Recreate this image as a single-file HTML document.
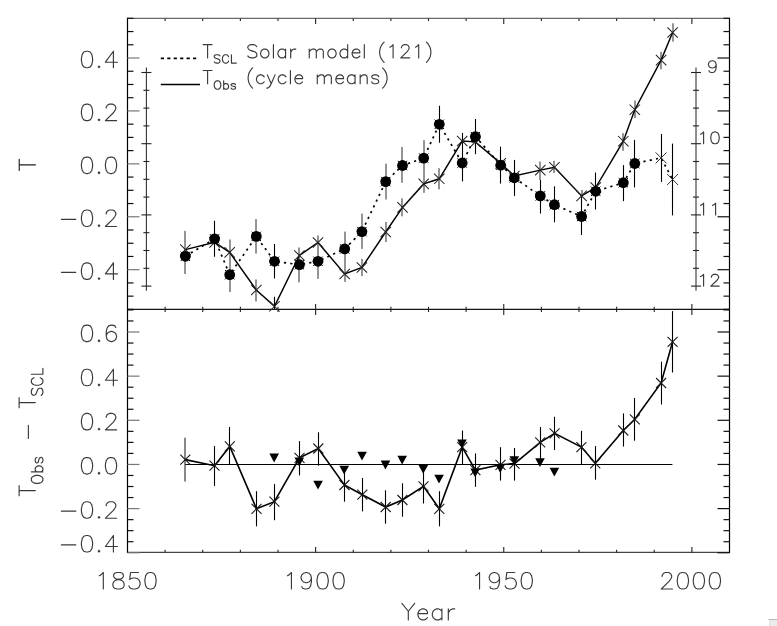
<!DOCTYPE html>
<html><head><meta charset="utf-8"><title>Solar model</title>
<style>html,body{margin:0;padding:0;background:#fff;}body{width:777px;height:626px;overflow:hidden;font-family:"Liberation Sans",sans-serif;}svg{display:block;}</style>
</head><body><svg width="777" height="626" viewBox="0 0 777 626"><g fill="none"><line x1="127.50" y1="18.40" x2="729.50" y2="18.40" stroke="#6a6a6a" stroke-width="1.30"/><line x1="127.50" y1="552.40" x2="729.50" y2="552.40" stroke="#444" stroke-width="1.30"/><line x1="127.50" y1="309.40" x2="729.50" y2="309.40" stroke="#151515" stroke-width="1.30"/><line x1="127.50" y1="17.80" x2="127.50" y2="553.00" stroke="#000" stroke-width="1.20"/><line x1="729.50" y1="17.80" x2="729.50" y2="553.00" stroke="#000" stroke-width="1.20"/><line x1="127.50" y1="309.38" x2="133.50" y2="309.38" stroke="#111" stroke-width="1.20"/><line x1="729.50" y1="309.38" x2="723.50" y2="309.38" stroke="#111" stroke-width="1.20"/><line x1="127.50" y1="296.15" x2="133.50" y2="296.15" stroke="#111" stroke-width="1.20"/><line x1="729.50" y1="296.15" x2="723.50" y2="296.15" stroke="#111" stroke-width="1.20"/><line x1="127.50" y1="282.92" x2="133.50" y2="282.92" stroke="#111" stroke-width="1.20"/><line x1="729.50" y1="282.92" x2="723.50" y2="282.92" stroke="#111" stroke-width="1.20"/><line x1="127.50" y1="269.69" x2="139.50" y2="269.69" stroke="#777" stroke-width="1.20"/><line x1="729.50" y1="269.69" x2="717.50" y2="269.69" stroke="#111" stroke-width="1.20"/><line x1="127.50" y1="256.46" x2="133.50" y2="256.46" stroke="#111" stroke-width="1.20"/><line x1="729.50" y1="256.46" x2="723.50" y2="256.46" stroke="#111" stroke-width="1.20"/><line x1="127.50" y1="243.23" x2="133.50" y2="243.23" stroke="#111" stroke-width="1.20"/><line x1="729.50" y1="243.23" x2="723.50" y2="243.23" stroke="#111" stroke-width="1.20"/><line x1="127.50" y1="230.00" x2="133.50" y2="230.00" stroke="#111" stroke-width="1.20"/><line x1="729.50" y1="230.00" x2="723.50" y2="230.00" stroke="#111" stroke-width="1.20"/><line x1="127.50" y1="216.77" x2="139.50" y2="216.77" stroke="#777" stroke-width="1.20"/><line x1="729.50" y1="216.77" x2="717.50" y2="216.77" stroke="#111" stroke-width="1.20"/><line x1="127.50" y1="203.54" x2="133.50" y2="203.54" stroke="#111" stroke-width="1.20"/><line x1="729.50" y1="203.54" x2="723.50" y2="203.54" stroke="#111" stroke-width="1.20"/><line x1="127.50" y1="190.31" x2="133.50" y2="190.31" stroke="#111" stroke-width="1.20"/><line x1="729.50" y1="190.31" x2="723.50" y2="190.31" stroke="#111" stroke-width="1.20"/><line x1="127.50" y1="177.08" x2="133.50" y2="177.08" stroke="#111" stroke-width="1.20"/><line x1="729.50" y1="177.08" x2="723.50" y2="177.08" stroke="#111" stroke-width="1.20"/><line x1="127.50" y1="163.85" x2="139.50" y2="163.85" stroke="#777" stroke-width="1.20"/><line x1="729.50" y1="163.85" x2="717.50" y2="163.85" stroke="#111" stroke-width="1.20"/><line x1="127.50" y1="150.62" x2="133.50" y2="150.62" stroke="#111" stroke-width="1.20"/><line x1="729.50" y1="150.62" x2="723.50" y2="150.62" stroke="#111" stroke-width="1.20"/><line x1="127.50" y1="137.39" x2="133.50" y2="137.39" stroke="#111" stroke-width="1.20"/><line x1="729.50" y1="137.39" x2="723.50" y2="137.39" stroke="#111" stroke-width="1.20"/><line x1="127.50" y1="124.16" x2="133.50" y2="124.16" stroke="#111" stroke-width="1.20"/><line x1="729.50" y1="124.16" x2="723.50" y2="124.16" stroke="#111" stroke-width="1.20"/><line x1="127.50" y1="110.93" x2="139.50" y2="110.93" stroke="#777" stroke-width="1.20"/><line x1="729.50" y1="110.93" x2="717.50" y2="110.93" stroke="#111" stroke-width="1.20"/><line x1="127.50" y1="97.70" x2="133.50" y2="97.70" stroke="#111" stroke-width="1.20"/><line x1="729.50" y1="97.70" x2="723.50" y2="97.70" stroke="#111" stroke-width="1.20"/><line x1="127.50" y1="84.47" x2="133.50" y2="84.47" stroke="#111" stroke-width="1.20"/><line x1="729.50" y1="84.47" x2="723.50" y2="84.47" stroke="#111" stroke-width="1.20"/><line x1="127.50" y1="71.24" x2="133.50" y2="71.24" stroke="#111" stroke-width="1.20"/><line x1="729.50" y1="71.24" x2="723.50" y2="71.24" stroke="#111" stroke-width="1.20"/><line x1="127.50" y1="58.01" x2="139.50" y2="58.01" stroke="#777" stroke-width="1.20"/><line x1="729.50" y1="58.01" x2="717.50" y2="58.01" stroke="#111" stroke-width="1.20"/><line x1="127.50" y1="44.78" x2="133.50" y2="44.78" stroke="#111" stroke-width="1.20"/><line x1="729.50" y1="44.78" x2="723.50" y2="44.78" stroke="#111" stroke-width="1.20"/><line x1="127.50" y1="31.55" x2="133.50" y2="31.55" stroke="#111" stroke-width="1.20"/><line x1="729.50" y1="31.55" x2="723.50" y2="31.55" stroke="#111" stroke-width="1.20"/><line x1="127.50" y1="18.32" x2="133.50" y2="18.32" stroke="#111" stroke-width="1.20"/><line x1="729.50" y1="18.32" x2="723.50" y2="18.32" stroke="#111" stroke-width="1.20"/><line x1="127.50" y1="552.75" x2="139.50" y2="552.75" stroke="#777" stroke-width="1.20"/><line x1="729.50" y1="552.75" x2="717.50" y2="552.75" stroke="#111" stroke-width="1.20"/><line x1="127.50" y1="541.71" x2="133.50" y2="541.71" stroke="#111" stroke-width="1.20"/><line x1="729.50" y1="541.71" x2="723.50" y2="541.71" stroke="#111" stroke-width="1.20"/><line x1="127.50" y1="530.67" x2="133.50" y2="530.67" stroke="#111" stroke-width="1.20"/><line x1="729.50" y1="530.67" x2="723.50" y2="530.67" stroke="#111" stroke-width="1.20"/><line x1="127.50" y1="519.64" x2="133.50" y2="519.64" stroke="#111" stroke-width="1.20"/><line x1="729.50" y1="519.64" x2="723.50" y2="519.64" stroke="#111" stroke-width="1.20"/><line x1="127.50" y1="508.60" x2="139.50" y2="508.60" stroke="#777" stroke-width="1.20"/><line x1="729.50" y1="508.60" x2="717.50" y2="508.60" stroke="#111" stroke-width="1.20"/><line x1="127.50" y1="497.56" x2="133.50" y2="497.56" stroke="#111" stroke-width="1.20"/><line x1="729.50" y1="497.56" x2="723.50" y2="497.56" stroke="#111" stroke-width="1.20"/><line x1="127.50" y1="486.52" x2="133.50" y2="486.52" stroke="#111" stroke-width="1.20"/><line x1="729.50" y1="486.52" x2="723.50" y2="486.52" stroke="#111" stroke-width="1.20"/><line x1="127.50" y1="475.49" x2="133.50" y2="475.49" stroke="#111" stroke-width="1.20"/><line x1="729.50" y1="475.49" x2="723.50" y2="475.49" stroke="#111" stroke-width="1.20"/><line x1="127.50" y1="464.45" x2="139.50" y2="464.45" stroke="#777" stroke-width="1.20"/><line x1="729.50" y1="464.45" x2="717.50" y2="464.45" stroke="#111" stroke-width="1.20"/><line x1="127.50" y1="453.41" x2="133.50" y2="453.41" stroke="#111" stroke-width="1.20"/><line x1="729.50" y1="453.41" x2="723.50" y2="453.41" stroke="#111" stroke-width="1.20"/><line x1="127.50" y1="442.38" x2="133.50" y2="442.38" stroke="#111" stroke-width="1.20"/><line x1="729.50" y1="442.38" x2="723.50" y2="442.38" stroke="#111" stroke-width="1.20"/><line x1="127.50" y1="431.34" x2="133.50" y2="431.34" stroke="#111" stroke-width="1.20"/><line x1="729.50" y1="431.34" x2="723.50" y2="431.34" stroke="#111" stroke-width="1.20"/><line x1="127.50" y1="420.30" x2="139.50" y2="420.30" stroke="#777" stroke-width="1.20"/><line x1="729.50" y1="420.30" x2="717.50" y2="420.30" stroke="#111" stroke-width="1.20"/><line x1="127.50" y1="409.26" x2="133.50" y2="409.26" stroke="#111" stroke-width="1.20"/><line x1="729.50" y1="409.26" x2="723.50" y2="409.26" stroke="#111" stroke-width="1.20"/><line x1="127.50" y1="398.22" x2="133.50" y2="398.22" stroke="#111" stroke-width="1.20"/><line x1="729.50" y1="398.22" x2="723.50" y2="398.22" stroke="#111" stroke-width="1.20"/><line x1="127.50" y1="387.19" x2="133.50" y2="387.19" stroke="#111" stroke-width="1.20"/><line x1="729.50" y1="387.19" x2="723.50" y2="387.19" stroke="#111" stroke-width="1.20"/><line x1="127.50" y1="376.15" x2="139.50" y2="376.15" stroke="#777" stroke-width="1.20"/><line x1="729.50" y1="376.15" x2="717.50" y2="376.15" stroke="#111" stroke-width="1.20"/><line x1="127.50" y1="365.11" x2="133.50" y2="365.11" stroke="#111" stroke-width="1.20"/><line x1="729.50" y1="365.11" x2="723.50" y2="365.11" stroke="#111" stroke-width="1.20"/><line x1="127.50" y1="354.07" x2="133.50" y2="354.07" stroke="#111" stroke-width="1.20"/><line x1="729.50" y1="354.07" x2="723.50" y2="354.07" stroke="#111" stroke-width="1.20"/><line x1="127.50" y1="343.04" x2="133.50" y2="343.04" stroke="#111" stroke-width="1.20"/><line x1="729.50" y1="343.04" x2="723.50" y2="343.04" stroke="#111" stroke-width="1.20"/><line x1="127.50" y1="332.00" x2="139.50" y2="332.00" stroke="#777" stroke-width="1.20"/><line x1="729.50" y1="332.00" x2="717.50" y2="332.00" stroke="#111" stroke-width="1.20"/><line x1="127.50" y1="320.96" x2="133.50" y2="320.96" stroke="#111" stroke-width="1.20"/><line x1="729.50" y1="320.96" x2="723.50" y2="320.96" stroke="#111" stroke-width="1.20"/><line x1="127.50" y1="309.92" x2="133.50" y2="309.92" stroke="#111" stroke-width="1.20"/><line x1="729.50" y1="309.92" x2="723.50" y2="309.92" stroke="#111" stroke-width="1.20"/><line x1="165.12" y1="18.40" x2="165.12" y2="21.00" stroke="#222" stroke-width="1.10"/><line x1="165.12" y1="309.40" x2="165.12" y2="306.80" stroke="#222" stroke-width="1.10"/><line x1="165.12" y1="309.40" x2="165.12" y2="312.00" stroke="#222" stroke-width="1.10"/><line x1="165.12" y1="552.40" x2="165.12" y2="549.80" stroke="#222" stroke-width="1.10"/><line x1="202.75" y1="18.40" x2="202.75" y2="21.00" stroke="#222" stroke-width="1.10"/><line x1="202.75" y1="309.40" x2="202.75" y2="306.80" stroke="#222" stroke-width="1.10"/><line x1="202.75" y1="309.40" x2="202.75" y2="312.00" stroke="#222" stroke-width="1.10"/><line x1="202.75" y1="552.40" x2="202.75" y2="549.80" stroke="#222" stroke-width="1.10"/><line x1="240.38" y1="18.40" x2="240.38" y2="21.00" stroke="#222" stroke-width="1.10"/><line x1="240.38" y1="309.40" x2="240.38" y2="306.80" stroke="#222" stroke-width="1.10"/><line x1="240.38" y1="309.40" x2="240.38" y2="312.00" stroke="#222" stroke-width="1.10"/><line x1="240.38" y1="552.40" x2="240.38" y2="549.80" stroke="#222" stroke-width="1.10"/><line x1="278.00" y1="18.40" x2="278.00" y2="21.00" stroke="#222" stroke-width="1.10"/><line x1="278.00" y1="309.40" x2="278.00" y2="306.80" stroke="#222" stroke-width="1.10"/><line x1="278.00" y1="309.40" x2="278.00" y2="312.00" stroke="#222" stroke-width="1.10"/><line x1="278.00" y1="552.40" x2="278.00" y2="549.80" stroke="#222" stroke-width="1.10"/><line x1="315.62" y1="18.40" x2="315.62" y2="23.90" stroke="#222" stroke-width="1.10"/><line x1="315.62" y1="309.40" x2="315.62" y2="303.90" stroke="#222" stroke-width="1.10"/><line x1="315.62" y1="309.40" x2="315.62" y2="314.90" stroke="#222" stroke-width="1.10"/><line x1="315.62" y1="552.40" x2="315.62" y2="546.90" stroke="#222" stroke-width="1.10"/><line x1="353.25" y1="18.40" x2="353.25" y2="21.00" stroke="#222" stroke-width="1.10"/><line x1="353.25" y1="309.40" x2="353.25" y2="306.80" stroke="#222" stroke-width="1.10"/><line x1="353.25" y1="309.40" x2="353.25" y2="312.00" stroke="#222" stroke-width="1.10"/><line x1="353.25" y1="552.40" x2="353.25" y2="549.80" stroke="#222" stroke-width="1.10"/><line x1="390.88" y1="18.40" x2="390.88" y2="21.00" stroke="#222" stroke-width="1.10"/><line x1="390.88" y1="309.40" x2="390.88" y2="306.80" stroke="#222" stroke-width="1.10"/><line x1="390.88" y1="309.40" x2="390.88" y2="312.00" stroke="#222" stroke-width="1.10"/><line x1="390.88" y1="552.40" x2="390.88" y2="549.80" stroke="#222" stroke-width="1.10"/><line x1="428.50" y1="18.40" x2="428.50" y2="21.00" stroke="#222" stroke-width="1.10"/><line x1="428.50" y1="309.40" x2="428.50" y2="306.80" stroke="#222" stroke-width="1.10"/><line x1="428.50" y1="309.40" x2="428.50" y2="312.00" stroke="#222" stroke-width="1.10"/><line x1="428.50" y1="552.40" x2="428.50" y2="549.80" stroke="#222" stroke-width="1.10"/><line x1="466.12" y1="18.40" x2="466.12" y2="21.00" stroke="#222" stroke-width="1.10"/><line x1="466.12" y1="309.40" x2="466.12" y2="306.80" stroke="#222" stroke-width="1.10"/><line x1="466.12" y1="309.40" x2="466.12" y2="312.00" stroke="#222" stroke-width="1.10"/><line x1="466.12" y1="552.40" x2="466.12" y2="549.80" stroke="#222" stroke-width="1.10"/><line x1="503.75" y1="18.40" x2="503.75" y2="23.90" stroke="#222" stroke-width="1.10"/><line x1="503.75" y1="309.40" x2="503.75" y2="303.90" stroke="#222" stroke-width="1.10"/><line x1="503.75" y1="309.40" x2="503.75" y2="314.90" stroke="#222" stroke-width="1.10"/><line x1="503.75" y1="552.40" x2="503.75" y2="546.90" stroke="#222" stroke-width="1.10"/><line x1="541.38" y1="18.40" x2="541.38" y2="21.00" stroke="#222" stroke-width="1.10"/><line x1="541.38" y1="309.40" x2="541.38" y2="306.80" stroke="#222" stroke-width="1.10"/><line x1="541.38" y1="309.40" x2="541.38" y2="312.00" stroke="#222" stroke-width="1.10"/><line x1="541.38" y1="552.40" x2="541.38" y2="549.80" stroke="#222" stroke-width="1.10"/><line x1="579.00" y1="18.40" x2="579.00" y2="21.00" stroke="#222" stroke-width="1.10"/><line x1="579.00" y1="309.40" x2="579.00" y2="306.80" stroke="#222" stroke-width="1.10"/><line x1="579.00" y1="309.40" x2="579.00" y2="312.00" stroke="#222" stroke-width="1.10"/><line x1="579.00" y1="552.40" x2="579.00" y2="549.80" stroke="#222" stroke-width="1.10"/><line x1="616.62" y1="18.40" x2="616.62" y2="21.00" stroke="#222" stroke-width="1.10"/><line x1="616.62" y1="309.40" x2="616.62" y2="306.80" stroke="#222" stroke-width="1.10"/><line x1="616.62" y1="309.40" x2="616.62" y2="312.00" stroke="#222" stroke-width="1.10"/><line x1="616.62" y1="552.40" x2="616.62" y2="549.80" stroke="#222" stroke-width="1.10"/><line x1="654.25" y1="18.40" x2="654.25" y2="21.00" stroke="#222" stroke-width="1.10"/><line x1="654.25" y1="309.40" x2="654.25" y2="306.80" stroke="#222" stroke-width="1.10"/><line x1="654.25" y1="309.40" x2="654.25" y2="312.00" stroke="#222" stroke-width="1.10"/><line x1="654.25" y1="552.40" x2="654.25" y2="549.80" stroke="#222" stroke-width="1.10"/><line x1="691.88" y1="18.40" x2="691.88" y2="23.90" stroke="#222" stroke-width="1.10"/><line x1="691.88" y1="309.40" x2="691.88" y2="303.90" stroke="#222" stroke-width="1.10"/><line x1="691.88" y1="309.40" x2="691.88" y2="314.90" stroke="#222" stroke-width="1.10"/><line x1="691.88" y1="552.40" x2="691.88" y2="546.90" stroke="#222" stroke-width="1.10"/><line x1="146.40" y1="67.50" x2="146.40" y2="290.70" stroke="#333" stroke-width="1.10"/><line x1="141.40" y1="72.50" x2="151.40" y2="72.50" stroke="#222" stroke-width="1.10"/><line x1="143.40" y1="90.30" x2="149.40" y2="90.30" stroke="#222" stroke-width="1.10"/><line x1="143.40" y1="108.10" x2="149.40" y2="108.10" stroke="#222" stroke-width="1.10"/><line x1="143.40" y1="125.90" x2="149.40" y2="125.90" stroke="#222" stroke-width="1.10"/><line x1="141.40" y1="143.70" x2="151.40" y2="143.70" stroke="#222" stroke-width="1.10"/><line x1="143.40" y1="161.50" x2="149.40" y2="161.50" stroke="#222" stroke-width="1.10"/><line x1="143.40" y1="179.30" x2="149.40" y2="179.30" stroke="#222" stroke-width="1.10"/><line x1="143.40" y1="197.10" x2="149.40" y2="197.10" stroke="#222" stroke-width="1.10"/><line x1="141.40" y1="214.90" x2="151.40" y2="214.90" stroke="#222" stroke-width="1.10"/><line x1="143.40" y1="232.70" x2="149.40" y2="232.70" stroke="#222" stroke-width="1.10"/><line x1="143.40" y1="250.50" x2="149.40" y2="250.50" stroke="#222" stroke-width="1.10"/><line x1="143.40" y1="268.30" x2="149.40" y2="268.30" stroke="#222" stroke-width="1.10"/><line x1="141.40" y1="286.10" x2="151.40" y2="286.10" stroke="#222" stroke-width="1.10"/><line x1="696.00" y1="67.50" x2="696.00" y2="290.70" stroke="#333" stroke-width="1.10"/><line x1="691.00" y1="72.50" x2="701.00" y2="72.50" stroke="#222" stroke-width="1.10"/><line x1="693.00" y1="90.30" x2="699.00" y2="90.30" stroke="#222" stroke-width="1.10"/><line x1="693.00" y1="108.10" x2="699.00" y2="108.10" stroke="#222" stroke-width="1.10"/><line x1="693.00" y1="125.90" x2="699.00" y2="125.90" stroke="#222" stroke-width="1.10"/><line x1="691.00" y1="143.70" x2="701.00" y2="143.70" stroke="#222" stroke-width="1.10"/><line x1="693.00" y1="161.50" x2="699.00" y2="161.50" stroke="#222" stroke-width="1.10"/><line x1="693.00" y1="179.30" x2="699.00" y2="179.30" stroke="#222" stroke-width="1.10"/><line x1="693.00" y1="197.10" x2="699.00" y2="197.10" stroke="#222" stroke-width="1.10"/><line x1="691.00" y1="214.90" x2="701.00" y2="214.90" stroke="#222" stroke-width="1.10"/><line x1="693.00" y1="232.70" x2="699.00" y2="232.70" stroke="#222" stroke-width="1.10"/><line x1="693.00" y1="250.50" x2="699.00" y2="250.50" stroke="#222" stroke-width="1.10"/><line x1="693.00" y1="268.30" x2="699.00" y2="268.30" stroke="#222" stroke-width="1.10"/><line x1="691.00" y1="286.10" x2="701.00" y2="286.10" stroke="#222" stroke-width="1.10"/></g><path d="M86.20 51.22 L83.80 52.01 L82.20 54.36 L81.40 58.29 L81.40 60.64 L82.20 64.57 L83.80 66.92 L86.20 67.71 L87.80 67.71 L90.20 66.92 L91.80 64.57 L92.60 60.64 L92.60 58.29 L91.80 54.36 L90.20 52.01 L87.80 51.22 L86.20 51.22 M99.00 66.14 L98.20 66.92 L99.00 67.71 L99.80 66.92 L99.00 66.14 M113.40 51.22 L105.40 62.21 L117.40 62.21 M113.40 51.22 L113.40 67.71" fill="none" stroke="#3a3a3a" stroke-width="1.15" stroke-linecap="round" stroke-linejoin="round"/><path d="M86.20 104.14 L83.80 104.93 L82.20 107.28 L81.40 111.21 L81.40 113.56 L82.20 117.49 L83.80 119.84 L86.20 120.63 L87.80 120.63 L90.20 119.84 L91.80 117.49 L92.60 113.56 L92.60 111.21 L91.80 107.28 L90.20 104.93 L87.80 104.14 L86.20 104.14 M99.00 119.06 L98.20 119.84 L99.00 120.63 L99.80 119.84 L99.00 119.06 M106.20 108.07 L106.20 107.28 L107.00 105.71 L107.80 104.93 L109.40 104.14 L112.60 104.14 L114.20 104.93 L115.00 105.71 L115.80 107.28 L115.80 108.85 L115.00 110.42 L113.40 112.78 L105.40 120.63 L116.60 120.63" fill="none" stroke="#3a3a3a" stroke-width="1.15" stroke-linecap="round" stroke-linejoin="round"/><path d="M86.20 157.06 L83.80 157.85 L82.20 160.20 L81.40 164.13 L81.40 166.48 L82.20 170.41 L83.80 172.76 L86.20 173.55 L87.80 173.55 L90.20 172.76 L91.80 170.41 L92.60 166.48 L92.60 164.13 L91.80 160.20 L90.20 157.85 L87.80 157.06 L86.20 157.06 M99.00 171.98 L98.20 172.76 L99.00 173.55 L99.80 172.76 L99.00 171.98 M110.20 157.06 L107.80 157.85 L106.20 160.20 L105.40 164.13 L105.40 166.48 L106.20 170.41 L107.80 172.76 L110.20 173.55 L111.80 173.55 L114.20 172.76 L115.80 170.41 L116.60 166.48 L116.60 164.13 L115.80 160.20 L114.20 157.85 L111.80 157.06 L110.20 157.06" fill="none" stroke="#3a3a3a" stroke-width="1.15" stroke-linecap="round" stroke-linejoin="round"/><path d="M61.40 219.41 L75.80 219.41 M86.20 209.99 L83.80 210.77 L82.20 213.12 L81.40 217.05 L81.40 219.41 L82.20 223.33 L83.80 225.69 L86.20 226.47 L87.80 226.47 L90.20 225.69 L91.80 223.33 L92.60 219.41 L92.60 217.05 L91.80 213.12 L90.20 210.77 L87.80 209.99 L86.20 209.99 M99.00 224.90 L98.20 225.69 L99.00 226.47 L99.80 225.69 L99.00 224.90 M106.20 213.91 L106.20 213.12 L107.00 211.56 L107.80 210.77 L109.40 209.99 L112.60 209.99 L114.20 210.77 L115.00 211.56 L115.80 213.12 L115.80 214.69 L115.00 216.26 L113.40 218.62 L105.40 226.47 L116.60 226.47" fill="none" stroke="#3a3a3a" stroke-width="1.15" stroke-linecap="round" stroke-linejoin="round"/><path d="M61.40 272.32 L75.80 272.32 M86.20 262.90 L83.80 263.69 L82.20 266.04 L81.40 269.97 L81.40 272.32 L82.20 276.25 L83.80 278.60 L86.20 279.39 L87.80 279.39 L90.20 278.60 L91.80 276.25 L92.60 272.32 L92.60 269.97 L91.80 266.04 L90.20 263.69 L87.80 262.90 L86.20 262.90 M99.00 277.82 L98.20 278.60 L99.00 279.39 L99.80 278.60 L99.00 277.82 M113.40 262.90 L105.40 273.89 L117.40 273.89 M113.40 262.90 L113.40 279.39" fill="none" stroke="#3a3a3a" stroke-width="1.15" stroke-linecap="round" stroke-linejoin="round"/><path d="M86.20 325.12 L83.80 325.90 L82.20 328.25 L81.40 332.18 L81.40 334.54 L82.20 338.46 L83.80 340.81 L86.20 341.60 L87.80 341.60 L90.20 340.81 L91.80 338.46 L92.60 334.54 L92.60 332.18 L91.80 328.25 L90.20 325.90 L87.80 325.12 L86.20 325.12 M99.00 340.03 L98.20 340.81 L99.00 341.60 L99.80 340.81 L99.00 340.03 M115.80 327.47 L115.00 325.90 L112.60 325.12 L111.00 325.12 L108.60 325.90 L107.00 328.25 L106.20 332.18 L106.20 336.11 L107.00 339.25 L108.60 340.81 L111.00 341.60 L111.80 341.60 L114.20 340.81 L115.80 339.25 L116.60 336.89 L116.60 336.11 L115.80 333.75 L114.20 332.18 L111.80 331.40 L111.00 331.40 L108.60 332.18 L107.00 333.75 L106.20 336.11" fill="none" stroke="#3a3a3a" stroke-width="1.15" stroke-linecap="round" stroke-linejoin="round"/><path d="M86.20 369.26 L83.80 370.05 L82.20 372.40 L81.40 376.33 L81.40 378.69 L82.20 382.61 L83.80 384.96 L86.20 385.75 L87.80 385.75 L90.20 384.96 L91.80 382.61 L92.60 378.69 L92.60 376.33 L91.80 372.40 L90.20 370.05 L87.80 369.26 L86.20 369.26 M99.00 384.18 L98.20 384.96 L99.00 385.75 L99.80 384.96 L99.00 384.18 M113.40 369.26 L105.40 380.25 L117.40 380.25 M113.40 369.26 L113.40 385.75" fill="none" stroke="#3a3a3a" stroke-width="1.15" stroke-linecap="round" stroke-linejoin="round"/><path d="M86.20 413.41 L83.80 414.20 L82.20 416.55 L81.40 420.48 L81.40 422.83 L82.20 426.76 L83.80 429.11 L86.20 429.90 L87.80 429.90 L90.20 429.11 L91.80 426.76 L92.60 422.83 L92.60 420.48 L91.80 416.55 L90.20 414.20 L87.80 413.41 L86.20 413.41 M99.00 428.33 L98.20 429.11 L99.00 429.90 L99.80 429.11 L99.00 428.33 M106.20 417.34 L106.20 416.55 L107.00 414.98 L107.80 414.20 L109.40 413.41 L112.60 413.41 L114.20 414.20 L115.00 414.98 L115.80 416.55 L115.80 418.12 L115.00 419.69 L113.40 422.05 L105.40 429.90 L116.60 429.90" fill="none" stroke="#3a3a3a" stroke-width="1.15" stroke-linecap="round" stroke-linejoin="round"/><path d="M86.20 457.56 L83.80 458.35 L82.20 460.70 L81.40 464.63 L81.40 466.99 L82.20 470.91 L83.80 473.26 L86.20 474.05 L87.80 474.05 L90.20 473.26 L91.80 470.91 L92.60 466.99 L92.60 464.63 L91.80 460.70 L90.20 458.35 L87.80 457.56 L86.20 457.56 M99.00 472.48 L98.20 473.26 L99.00 474.05 L99.80 473.26 L99.00 472.48 M110.20 457.56 L107.80 458.35 L106.20 460.70 L105.40 464.63 L105.40 466.99 L106.20 470.91 L107.80 473.26 L110.20 474.05 L111.80 474.05 L114.20 473.26 L115.80 470.91 L116.60 466.99 L116.60 464.63 L115.80 460.70 L114.20 458.35 L111.80 457.56 L110.20 457.56" fill="none" stroke="#3a3a3a" stroke-width="1.15" stroke-linecap="round" stroke-linejoin="round"/><path d="M61.40 511.14 L75.80 511.14 M86.20 501.72 L83.80 502.50 L82.20 504.86 L81.40 508.78 L81.40 511.14 L82.20 515.06 L83.80 517.42 L86.20 518.20 L87.80 518.20 L90.20 517.42 L91.80 515.06 L92.60 511.14 L92.60 508.78 L91.80 504.86 L90.20 502.50 L87.80 501.72 L86.20 501.72 M99.00 516.63 L98.20 517.42 L99.00 518.20 L99.80 517.42 L99.00 516.63 M106.20 505.64 L106.20 504.86 L107.00 503.29 L107.80 502.50 L109.40 501.72 L112.60 501.72 L114.20 502.50 L115.00 503.29 L115.80 504.86 L115.80 506.43 L115.00 508.00 L113.40 510.35 L105.40 518.20 L116.60 518.20" fill="none" stroke="#3a3a3a" stroke-width="1.15" stroke-linecap="round" stroke-linejoin="round"/><path d="M61.40 544.93 L75.80 544.93 M86.20 535.51 L83.80 536.30 L82.20 538.65 L81.40 542.58 L81.40 544.93 L82.20 548.86 L83.80 551.22 L86.20 552.00 L87.80 552.00 L90.20 551.22 L91.80 548.86 L92.60 544.93 L92.60 542.58 L91.80 538.65 L90.20 536.30 L87.80 535.51 L86.20 535.51 M99.00 550.43 L98.20 551.22 L99.00 552.00 L99.80 551.22 L99.00 550.43 M113.40 535.51 L105.40 546.50 L117.40 546.50 M113.40 535.51 L113.40 552.00" fill="none" stroke="#3a3a3a" stroke-width="1.15" stroke-linecap="round" stroke-linejoin="round"/><path d="M99.30 575.65 L100.90 574.87 L103.30 572.51 L103.30 589.00 M116.90 572.51 L114.50 573.30 L113.70 574.87 L113.70 576.44 L114.50 578.01 L116.10 578.79 L119.30 579.58 L121.70 580.37 L123.30 581.93 L124.10 583.50 L124.10 585.86 L123.30 587.43 L122.50 588.22 L120.10 589.00 L116.90 589.00 L114.50 588.22 L113.70 587.43 L112.90 585.86 L112.90 583.50 L113.70 581.93 L115.30 580.37 L117.70 579.58 L120.90 578.79 L122.50 578.01 L123.30 576.44 L123.30 574.87 L122.50 573.30 L120.10 572.51 L116.90 572.51 M138.50 572.51 L130.50 572.51 L129.70 579.58 L130.50 578.79 L132.90 578.01 L135.30 578.01 L137.70 578.79 L139.30 580.37 L140.10 582.72 L140.10 584.29 L139.30 586.64 L137.70 588.22 L135.30 589.00 L132.90 589.00 L130.50 588.22 L129.70 587.43 L128.90 585.86 M149.70 572.51 L147.30 573.30 L145.70 575.65 L144.90 579.58 L144.90 581.93 L145.70 585.86 L147.30 588.22 L149.70 589.00 L151.30 589.00 L153.70 588.22 L155.30 585.86 L156.10 581.93 L156.10 579.58 L155.30 575.65 L153.70 573.30 L151.30 572.51 L149.70 572.51" fill="none" stroke="#3a3a3a" stroke-width="1.15" stroke-linecap="round" stroke-linejoin="round"/><path d="M287.43 575.65 L289.02 574.87 L291.43 572.51 L291.43 589.00 M311.43 578.01 L310.62 580.37 L309.02 581.93 L306.62 582.72 L305.82 582.72 L303.43 581.93 L301.82 580.37 L301.02 578.01 L301.02 577.23 L301.82 574.87 L303.43 573.30 L305.82 572.51 L306.62 572.51 L309.02 573.30 L310.62 574.87 L311.43 578.01 L311.43 581.93 L310.62 585.86 L309.02 588.22 L306.62 589.00 L305.02 589.00 L302.62 588.22 L301.82 586.64 M321.82 572.51 L319.43 573.30 L317.82 575.65 L317.02 579.58 L317.02 581.93 L317.82 585.86 L319.43 588.22 L321.82 589.00 L323.43 589.00 L325.82 588.22 L327.43 585.86 L328.23 581.93 L328.23 579.58 L327.43 575.65 L325.82 573.30 L323.43 572.51 L321.82 572.51 M337.82 572.51 L335.43 573.30 L333.82 575.65 L333.02 579.58 L333.02 581.93 L333.82 585.86 L335.43 588.22 L337.82 589.00 L339.43 589.00 L341.82 588.22 L343.43 585.86 L344.23 581.93 L344.23 579.58 L343.43 575.65 L341.82 573.30 L339.43 572.51 L337.82 572.51" fill="none" stroke="#3a3a3a" stroke-width="1.15" stroke-linecap="round" stroke-linejoin="round"/><path d="M475.55 575.65 L477.15 574.87 L479.55 572.51 L479.55 589.00 M499.55 578.01 L498.75 580.37 L497.15 581.93 L494.75 582.72 L493.95 582.72 L491.55 581.93 L489.95 580.37 L489.15 578.01 L489.15 577.23 L489.95 574.87 L491.55 573.30 L493.95 572.51 L494.75 572.51 L497.15 573.30 L498.75 574.87 L499.55 578.01 L499.55 581.93 L498.75 585.86 L497.15 588.22 L494.75 589.00 L493.15 589.00 L490.75 588.22 L489.95 586.64 M514.75 572.51 L506.75 572.51 L505.95 579.58 L506.75 578.79 L509.15 578.01 L511.55 578.01 L513.95 578.79 L515.55 580.37 L516.35 582.72 L516.35 584.29 L515.55 586.64 L513.95 588.22 L511.55 589.00 L509.15 589.00 L506.75 588.22 L505.95 587.43 L505.15 585.86 M525.95 572.51 L523.55 573.30 L521.95 575.65 L521.15 579.58 L521.15 581.93 L521.95 585.86 L523.55 588.22 L525.95 589.00 L527.55 589.00 L529.95 588.22 L531.55 585.86 L532.35 581.93 L532.35 579.58 L531.55 575.65 L529.95 573.30 L527.55 572.51 L525.95 572.51" fill="none" stroke="#3a3a3a" stroke-width="1.15" stroke-linecap="round" stroke-linejoin="round"/><path d="M662.08 576.44 L662.08 575.65 L662.88 574.09 L663.67 573.30 L665.27 572.51 L668.48 572.51 L670.08 573.30 L670.88 574.09 L671.67 575.65 L671.67 577.23 L670.88 578.79 L669.27 581.15 L661.27 589.00 L672.48 589.00 M682.08 572.51 L679.67 573.30 L678.08 575.65 L677.27 579.58 L677.27 581.93 L678.08 585.86 L679.67 588.22 L682.08 589.00 L683.67 589.00 L686.08 588.22 L687.67 585.86 L688.48 581.93 L688.48 579.58 L687.67 575.65 L686.08 573.30 L683.67 572.51 L682.08 572.51 M698.08 572.51 L695.67 573.30 L694.08 575.65 L693.27 579.58 L693.27 581.93 L694.08 585.86 L695.67 588.22 L698.08 589.00 L699.67 589.00 L702.08 588.22 L703.67 585.86 L704.48 581.93 L704.48 579.58 L703.67 575.65 L702.08 573.30 L699.67 572.51 L698.08 572.51 M714.08 572.51 L711.67 573.30 L710.08 575.65 L709.27 579.58 L709.27 581.93 L710.08 585.86 L711.67 588.22 L714.08 589.00 L715.67 589.00 L718.08 588.22 L719.67 585.86 L720.48 581.93 L720.48 579.58 L719.67 575.65 L718.08 573.30 L715.67 572.51 L714.08 572.51" fill="none" stroke="#3a3a3a" stroke-width="1.15" stroke-linecap="round" stroke-linejoin="round"/><path d="M401.90 603.41 L408.30 611.26 L408.30 619.90 M414.70 603.41 L408.30 611.26 M417.90 613.62 L427.50 613.62 L427.50 612.05 L426.70 610.48 L425.90 609.69 L424.30 608.91 L421.90 608.91 L420.30 609.69 L418.70 611.26 L417.90 613.62 L417.90 615.19 L418.70 617.54 L420.30 619.12 L421.90 619.90 L424.30 619.90 L425.90 619.12 L427.50 617.54 M441.90 608.91 L441.90 619.90 M441.90 611.26 L440.30 609.69 L438.70 608.91 L436.30 608.91 L434.70 609.69 L433.10 611.26 L432.30 613.62 L432.30 615.19 L433.10 617.54 L434.70 619.12 L436.30 619.90 L438.70 619.90 L440.30 619.12 L441.90 617.54 M448.30 608.91 L448.30 619.90 M448.30 613.62 L449.10 611.26 L450.70 609.69 L452.30 608.91 L454.70 608.91" fill="none" stroke="#3a3a3a" stroke-width="1.15" stroke-linecap="round" stroke-linejoin="round"/><path d="M716.20 64.66 L715.60 66.34 L714.40 67.46 L712.60 68.02 L712.00 68.02 L710.20 67.46 L709.00 66.34 L708.40 64.66 L708.40 64.10 L709.00 62.42 L710.20 61.30 L712.00 60.74 L712.60 60.74 L714.40 61.30 L715.60 62.42 L716.20 64.66 L716.20 67.46 L715.60 70.26 L714.40 71.94 L712.60 72.50 L711.40 72.50 L709.60 71.94 L709.00 70.82" fill="none" stroke="#3a3a3a" stroke-width="1.15" stroke-linecap="round" stroke-linejoin="round"/><path d="M700.60 134.18 L701.80 133.62 L703.60 131.94 L703.60 143.70 M714.40 131.94 L712.60 132.50 L711.40 134.18 L710.80 136.98 L710.80 138.66 L711.40 141.46 L712.60 143.14 L714.40 143.70 L715.60 143.70 L717.40 143.14 L718.60 141.46 L719.20 138.66 L719.20 136.98 L718.60 134.18 L717.40 132.50 L715.60 131.94 L714.40 131.94" fill="none" stroke="#3a3a3a" stroke-width="1.15" stroke-linecap="round" stroke-linejoin="round"/><path d="M700.60 205.38 L701.80 204.82 L703.60 203.14 L703.60 214.90 M712.60 205.38 L713.80 204.82 L715.60 203.14 L715.60 214.90" fill="none" stroke="#3a3a3a" stroke-width="1.15" stroke-linecap="round" stroke-linejoin="round"/><path d="M700.60 276.58 L701.80 276.02 L703.60 274.34 L703.60 286.10 M711.40 277.14 L711.40 276.58 L712.00 275.46 L712.60 274.90 L713.80 274.34 L716.20 274.34 L717.40 274.90 L718.00 275.46 L718.60 276.58 L718.60 277.70 L718.00 278.82 L716.80 280.50 L710.80 286.10 L719.20 286.10" fill="none" stroke="#3a3a3a" stroke-width="1.15" stroke-linecap="round" stroke-linejoin="round"/><g transform="translate(35.40 171.30) rotate(-90)"><path d="M6.40 -16.17 L6.40 0.00 M0.80 -16.17 L12.00 -16.17" fill="none" stroke="#222" stroke-width="1.15" stroke-linecap="round" stroke-linejoin="round"/></g><g transform="translate(35.30 496.46) rotate(-90)"><path d="M5.76 -16.17 L5.76 0.00 M0.72 -16.17 L10.80 -16.17" fill="none" stroke="#3a3a3a" stroke-width="1.15" stroke-linecap="round" stroke-linejoin="round"/></g><g transform="translate(42.90 484.90) rotate(-90)"><path d="M4.50 -11.55 L3.50 -11.00 L2.50 -9.90 L2.00 -8.80 L1.50 -7.15 L1.50 -4.40 L2.00 -2.75 L2.50 -1.65 L3.50 -0.55 L4.50 0.00 L6.50 0.00 L7.50 -0.55 L8.50 -1.65 L9.00 -2.75 L9.50 -4.40 L9.50 -7.15 L9.00 -8.80 L8.50 -9.90 L7.50 -11.00 L6.50 -11.55 L4.50 -11.55 M13.00 -11.55 L13.00 0.00 M13.00 -6.05 L14.00 -7.15 L15.00 -7.70 L16.50 -7.70 L17.50 -7.15 L18.50 -6.05 L19.00 -4.40 L19.00 -3.30 L18.50 -1.65 L17.50 -0.55 L16.50 0.00 L15.00 0.00 L14.00 -0.55 L13.00 -1.65 M27.50 -6.05 L27.00 -7.15 L25.50 -7.70 L24.00 -7.70 L22.50 -7.15 L22.00 -6.05 L22.50 -4.95 L23.50 -4.40 L26.00 -3.85 L27.00 -3.30 L27.50 -2.20 L27.50 -1.65 L27.00 -0.55 L25.50 0.00 L24.00 0.00 L22.50 -0.55 L22.00 -1.65" fill="none" stroke="#3a3a3a" stroke-width="1.15" stroke-linecap="round" stroke-linejoin="round"/></g><g transform="translate(35.30 441.26) rotate(-90)"><path d="M2.88 -6.93 L15.84 -6.93" fill="none" stroke="#3a3a3a" stroke-width="1.15" stroke-linecap="round" stroke-linejoin="round"/></g><g transform="translate(35.30 408.36) rotate(-90)"><path d="M5.76 -16.17 L5.76 0.00 M0.72 -16.17 L10.80 -16.17" fill="none" stroke="#3a3a3a" stroke-width="1.15" stroke-linecap="round" stroke-linejoin="round"/></g><g transform="translate(42.90 396.80) rotate(-90)"><path d="M8.50 -9.90 L7.50 -11.00 L6.00 -11.55 L4.00 -11.55 L2.50 -11.00 L1.50 -9.90 L1.50 -8.80 L2.00 -7.70 L2.50 -7.15 L3.50 -6.60 L6.50 -5.50 L7.50 -4.95 L8.00 -4.40 L8.50 -3.30 L8.50 -1.65 L7.50 -0.55 L6.00 0.00 L4.00 0.00 L2.50 -0.55 L1.50 -1.65 M19.00 -8.80 L18.50 -9.90 L17.50 -11.00 L16.50 -11.55 L14.50 -11.55 L13.50 -11.00 L12.50 -9.90 L12.00 -8.80 L11.50 -7.15 L11.50 -4.40 L12.00 -2.75 L12.50 -1.65 L13.50 -0.55 L14.50 0.00 L16.50 0.00 L17.50 -0.55 L18.50 -1.65 L19.00 -2.75 M22.50 -11.55 L22.50 0.00 M22.50 0.00 L28.50 0.00" fill="none" stroke="#3a3a3a" stroke-width="1.15" stroke-linecap="round" stroke-linejoin="round"/></g><path d="M207.60 44.67 L207.60 57.90 M203.12 44.67 L212.08 44.67" fill="none" stroke="#3a3a3a" stroke-width="1.15" stroke-linecap="round" stroke-linejoin="round"/><path d="M219.97 55.90 L219.15 55.10 L217.92 54.70 L216.28 54.70 L215.05 55.10 L214.23 55.90 L214.23 56.70 L214.64 57.50 L215.05 57.90 L215.87 58.30 L218.33 59.10 L219.15 59.50 L219.56 59.90 L219.97 60.70 L219.97 61.90 L219.15 62.70 L217.92 63.10 L216.28 63.10 L215.05 62.70 L214.23 61.90 M228.58 56.70 L228.17 55.90 L227.35 55.10 L226.53 54.70 L224.89 54.70 L224.07 55.10 L223.25 55.90 L222.84 56.70 L222.43 57.90 L222.43 59.90 L222.84 61.10 L223.25 61.90 L224.07 62.70 L224.89 63.10 L226.53 63.10 L227.35 62.70 L228.17 61.90 L228.58 61.10 M231.45 54.70 L231.45 63.10 M231.45 63.10 L236.37 63.10" fill="none" stroke="#3a3a3a" stroke-width="1.15" stroke-linecap="round" stroke-linejoin="round"/><path d="M256.78 46.56 L255.50 45.30 L253.58 44.67 L251.02 44.67 L249.10 45.30 L247.82 46.56 L247.82 47.82 L248.46 49.08 L249.10 49.71 L250.38 50.34 L254.22 51.60 L255.50 52.23 L256.14 52.86 L256.78 54.12 L256.78 56.01 L255.50 57.27 L253.58 57.90 L251.02 57.90 L249.10 57.27 L247.82 56.01 M263.82 49.08 L262.54 49.71 L261.26 50.97 L260.62 52.86 L260.62 54.12 L261.26 56.01 L262.54 57.27 L263.82 57.90 L265.74 57.90 L267.02 57.27 L268.30 56.01 L268.94 54.12 L268.94 52.86 L268.30 50.97 L267.02 49.71 L265.74 49.08 L263.82 49.08 M273.42 44.67 L273.42 57.90 M285.58 49.08 L285.58 57.90 M285.58 50.97 L284.30 49.71 L283.02 49.08 L281.10 49.08 L279.82 49.71 L278.54 50.97 L277.90 52.86 L277.90 54.12 L278.54 56.01 L279.82 57.27 L281.10 57.90 L283.02 57.90 L284.30 57.27 L285.58 56.01 M290.70 49.08 L290.70 57.90 M290.70 52.86 L291.34 50.97 L292.62 49.71 L293.90 49.08 L295.82 49.08 M309.26 49.08 L309.26 57.90 M309.26 51.60 L311.18 49.71 L312.46 49.08 L314.38 49.08 L315.66 49.71 L316.30 51.60 L316.30 57.90 M316.30 51.60 L318.22 49.71 L319.50 49.08 L321.42 49.08 L322.70 49.71 L323.34 51.60 L323.34 57.90 M331.02 49.08 L329.74 49.71 L328.46 50.97 L327.82 52.86 L327.82 54.12 L328.46 56.01 L329.74 57.27 L331.02 57.90 L332.94 57.90 L334.22 57.27 L335.50 56.01 L336.14 54.12 L336.14 52.86 L335.50 50.97 L334.22 49.71 L332.94 49.08 L331.02 49.08 M347.66 44.67 L347.66 57.90 M347.66 50.97 L346.38 49.71 L345.10 49.08 L343.18 49.08 L341.90 49.71 L340.62 50.97 L339.98 52.86 L339.98 54.12 L340.62 56.01 L341.90 57.27 L343.18 57.90 L345.10 57.90 L346.38 57.27 L347.66 56.01 M352.14 52.86 L359.82 52.86 L359.82 51.60 L359.18 50.34 L358.54 49.71 L357.26 49.08 L355.34 49.08 L354.06 49.71 L352.78 50.97 L352.14 52.86 L352.14 54.12 L352.78 56.01 L354.06 57.27 L355.34 57.90 L357.26 57.90 L358.54 57.27 L359.82 56.01 M364.30 44.67 L364.30 57.90 M384.14 42.15 L382.86 43.41 L381.58 45.30 L380.30 47.82 L379.66 50.97 L379.66 53.49 L380.30 56.64 L381.58 59.16 L382.86 61.05 L384.14 62.31 M389.90 47.19 L391.18 46.56 L393.10 44.67 L393.10 57.90 M401.42 47.82 L401.42 47.19 L402.06 45.93 L402.70 45.30 L403.98 44.67 L406.54 44.67 L407.82 45.30 L408.46 45.93 L409.10 47.19 L409.10 48.45 L408.46 49.71 L407.18 51.60 L400.78 57.90 L409.74 57.90 M415.50 47.19 L416.78 46.56 L418.70 44.67 L418.70 57.90 M426.38 42.15 L427.66 43.41 L428.94 45.30 L430.22 47.82 L430.86 50.97 L430.86 53.49 L430.22 56.64 L428.94 59.16 L427.66 61.05 L426.38 62.31" fill="none" stroke="#3a3a3a" stroke-width="1.15" stroke-linecap="round" stroke-linejoin="round"/><path d="M207.60 70.47 L207.60 83.70 M203.12 70.47 L212.08 70.47" fill="none" stroke="#3a3a3a" stroke-width="1.15" stroke-linecap="round" stroke-linejoin="round"/><path d="M216.69 80.80 L215.87 81.20 L215.05 82.00 L214.64 82.80 L214.23 84.00 L214.23 86.00 L214.64 87.20 L215.05 88.00 L215.87 88.80 L216.69 89.20 L218.33 89.20 L219.15 88.80 L219.97 88.00 L220.38 87.20 L220.79 86.00 L220.79 84.00 L220.38 82.80 L219.97 82.00 L219.15 81.20 L218.33 80.80 L216.69 80.80 M223.66 80.80 L223.66 89.20 M223.66 84.80 L224.48 84.00 L225.30 83.60 L226.53 83.60 L227.35 84.00 L228.17 84.80 L228.58 86.00 L228.58 86.80 L228.17 88.00 L227.35 88.80 L226.53 89.20 L225.30 89.20 L224.48 88.80 L223.66 88.00 M235.55 84.80 L235.14 84.00 L233.91 83.60 L232.68 83.60 L231.45 84.00 L231.04 84.80 L231.45 85.60 L232.27 86.00 L234.32 86.40 L235.14 86.80 L235.55 87.60 L235.55 88.00 L235.14 88.80 L233.91 89.20 L232.68 89.20 L231.45 88.80 L231.04 88.00" fill="none" stroke="#3a3a3a" stroke-width="1.15" stroke-linecap="round" stroke-linejoin="round"/><path d="M252.64 67.95 L251.36 69.21 L250.08 71.10 L248.80 73.62 L248.16 76.77 L248.16 79.29 L248.80 82.44 L250.08 84.96 L251.36 86.85 L252.64 88.11 M264.16 76.77 L262.88 75.51 L261.60 74.88 L259.68 74.88 L258.40 75.51 L257.12 76.77 L256.48 78.66 L256.48 79.92 L257.12 81.81 L258.40 83.07 L259.68 83.70 L261.60 83.70 L262.88 83.07 L264.16 81.81 M267.36 74.88 L271.20 83.70 M275.04 74.88 L271.20 83.70 L269.92 86.22 L268.64 87.48 L267.36 88.11 L266.72 88.11 M285.92 76.77 L284.64 75.51 L283.36 74.88 L281.44 74.88 L280.16 75.51 L278.88 76.77 L278.24 78.66 L278.24 79.92 L278.88 81.81 L280.16 83.07 L281.44 83.70 L283.36 83.70 L284.64 83.07 L285.92 81.81 M290.40 70.47 L290.40 83.70 M294.88 78.66 L302.56 78.66 L302.56 77.40 L301.92 76.14 L301.28 75.51 L300.00 74.88 L298.08 74.88 L296.80 75.51 L295.52 76.77 L294.88 78.66 L294.88 79.92 L295.52 81.81 L296.80 83.07 L298.08 83.70 L300.00 83.70 L301.28 83.07 L302.56 81.81 M317.28 74.88 L317.28 83.70 M317.28 77.40 L319.20 75.51 L320.48 74.88 L322.40 74.88 L323.68 75.51 L324.32 77.40 L324.32 83.70 M324.32 77.40 L326.24 75.51 L327.52 74.88 L329.44 74.88 L330.72 75.51 L331.36 77.40 L331.36 83.70 M335.84 78.66 L343.52 78.66 L343.52 77.40 L342.88 76.14 L342.24 75.51 L340.96 74.88 L339.04 74.88 L337.76 75.51 L336.48 76.77 L335.84 78.66 L335.84 79.92 L336.48 81.81 L337.76 83.07 L339.04 83.70 L340.96 83.70 L342.24 83.07 L343.52 81.81 M355.04 74.88 L355.04 83.70 M355.04 76.77 L353.76 75.51 L352.48 74.88 L350.56 74.88 L349.28 75.51 L348.00 76.77 L347.36 78.66 L347.36 79.92 L348.00 81.81 L349.28 83.07 L350.56 83.70 L352.48 83.70 L353.76 83.07 L355.04 81.81 M360.16 74.88 L360.16 83.70 M360.16 77.40 L362.08 75.51 L363.36 74.88 L365.28 74.88 L366.56 75.51 L367.20 77.40 L367.20 83.70 M378.72 76.77 L378.08 75.51 L376.16 74.88 L374.24 74.88 L372.32 75.51 L371.68 76.77 L372.32 78.03 L373.60 78.66 L376.80 79.29 L378.08 79.92 L378.72 81.18 L378.72 81.81 L378.08 83.07 L376.16 83.70 L374.24 83.70 L372.32 83.07 L371.68 81.81 M382.56 67.95 L383.84 69.21 L385.12 71.10 L386.40 73.62 L387.04 76.77 L387.04 79.29 L386.40 82.44 L385.12 84.96 L383.84 86.85 L382.56 88.11" fill="none" stroke="#3a3a3a" stroke-width="1.15" stroke-linecap="round" stroke-linejoin="round"/><path d="M160.8 58.4 H196.2" stroke="#000" stroke-width="1.7" stroke-dasharray="3.2 3.24" fill="none"/><line x1="160.80" y1="84.50" x2="200.00" y2="84.50" stroke="#000" stroke-width="1.60"/><g><line x1="185.00" y1="230.90" x2="185.00" y2="274.00" stroke="#2a2a2a" stroke-width="1.00"/><line x1="214.50" y1="220.80" x2="214.50" y2="256.80" stroke="#000" stroke-width="1.10"/><line x1="230.00" y1="239.50" x2="230.00" y2="292.00" stroke="#2a2a2a" stroke-width="1.00"/><line x1="256.00" y1="219.10" x2="256.00" y2="253.60" stroke="#2a2a2a" stroke-width="1.00"/><line x1="256.00" y1="279.50" x2="256.00" y2="301.50" stroke="#2a2a2a" stroke-width="1.00"/><line x1="274.50" y1="244.00" x2="274.50" y2="278.50" stroke="#000" stroke-width="1.10"/><line x1="274.50" y1="296.70" x2="274.50" y2="309.00" stroke="#000" stroke-width="1.10"/><line x1="299.00" y1="247.50" x2="299.00" y2="282.30" stroke="#2a2a2a" stroke-width="1.00"/><line x1="318.00" y1="235.40" x2="318.00" y2="278.90" stroke="#2a2a2a" stroke-width="1.00"/><line x1="345.00" y1="231.60" x2="345.00" y2="281.90" stroke="#2a2a2a" stroke-width="1.00"/><line x1="362.00" y1="213.60" x2="362.00" y2="248.90" stroke="#2a2a2a" stroke-width="1.00"/><line x1="362.00" y1="258.90" x2="362.00" y2="276.10" stroke="#2a2a2a" stroke-width="1.00"/><line x1="386.00" y1="163.70" x2="386.00" y2="199.50" stroke="#2a2a2a" stroke-width="1.00"/><line x1="386.00" y1="222.00" x2="386.00" y2="242.00" stroke="#2a2a2a" stroke-width="1.00"/><line x1="402.00" y1="147.00" x2="402.00" y2="182.80" stroke="#2a2a2a" stroke-width="1.00"/><line x1="402.00" y1="198.40" x2="402.00" y2="216.30" stroke="#2a2a2a" stroke-width="1.00"/><line x1="424.00" y1="140.20" x2="424.00" y2="175.00" stroke="#2a2a2a" stroke-width="1.00"/><line x1="424.00" y1="175.00" x2="424.00" y2="192.80" stroke="#2a2a2a" stroke-width="1.00"/><line x1="439.50" y1="105.80" x2="439.50" y2="142.70" stroke="#000" stroke-width="1.10"/><line x1="439.00" y1="168.20" x2="439.00" y2="189.30" stroke="#2a2a2a" stroke-width="1.00"/><line x1="462.50" y1="133.00" x2="462.50" y2="181.40" stroke="#000" stroke-width="1.10"/><line x1="475.50" y1="119.00" x2="475.50" y2="154.20" stroke="#000" stroke-width="1.10"/><line x1="500.50" y1="146.70" x2="500.50" y2="183.60" stroke="#000" stroke-width="1.10"/><line x1="514.50" y1="159.90" x2="514.50" y2="195.90" stroke="#000" stroke-width="1.10"/><line x1="540.00" y1="161.60" x2="540.00" y2="180.00" stroke="#2a2a2a" stroke-width="1.00"/><line x1="540.50" y1="180.00" x2="540.50" y2="213.50" stroke="#000" stroke-width="1.10"/><line x1="554.50" y1="186.30" x2="554.50" y2="222.30" stroke="#000" stroke-width="1.10"/><line x1="554.00" y1="160.80" x2="554.00" y2="173.00" stroke="#2a2a2a" stroke-width="1.00"/><line x1="581.50" y1="196.30" x2="581.50" y2="235.00" stroke="#000" stroke-width="1.10"/><line x1="582.00" y1="190.00" x2="582.00" y2="196.30" stroke="#2a2a2a" stroke-width="1.00"/><line x1="595.50" y1="172.50" x2="595.50" y2="209.50" stroke="#000" stroke-width="1.10"/><line x1="623.50" y1="165.10" x2="623.50" y2="201.10" stroke="#000" stroke-width="1.10"/><line x1="623.00" y1="133.20" x2="623.00" y2="150.80" stroke="#2a2a2a" stroke-width="1.00"/><line x1="634.50" y1="139.90" x2="634.50" y2="187.50" stroke="#000" stroke-width="1.10"/><line x1="635.00" y1="100.50" x2="635.00" y2="118.00" stroke="#2a2a2a" stroke-width="1.00"/><line x1="661.50" y1="134.00" x2="661.50" y2="181.90" stroke="#000" stroke-width="1.10"/><line x1="661.00" y1="51.80" x2="661.00" y2="69.30" stroke="#2a2a2a" stroke-width="1.00"/><line x1="672.50" y1="143.60" x2="672.50" y2="215.40" stroke="#000" stroke-width="1.10"/><line x1="673.00" y1="23.30" x2="673.00" y2="41.70" stroke="#2a2a2a" stroke-width="1.00"/><polyline points="185.40,256.30 214.60,238.80 229.70,274.70 256.30,236.40 274.50,261.30 299.40,264.70 318.00,261.30 344.70,248.90 361.90,231.60 385.70,181.60 402.50,165.50 423.70,158.10 439.30,124.30 462.20,163.00 475.40,136.60 500.70,165.20 514.30,177.80 540.30,195.90 554.40,204.70 581.60,216.50 595.70,191.30 623.30,182.70 634.80,163.50 661.10,157.90 672.60,179.50" fill="none" stroke="#000" stroke-width="1.7" stroke-dasharray="2.2 4.2"/><polyline points="185.40,249.60 214.60,242.40 229.70,252.40 256.30,290.00 274.50,306.30 299.40,255.50 318.00,242.50 344.70,274.00 361.90,267.50 385.70,232.00 402.50,207.40 423.70,183.90 439.30,178.80 462.20,141.00 475.40,141.90 500.70,163.40 514.30,176.00 540.30,170.10 554.40,167.30 581.60,195.90 595.70,187.50 623.30,141.20 634.80,109.70 661.10,60.10 672.60,32.50" fill="none" stroke="#000" stroke-width="1.45" stroke-linejoin="miter"/><path d="M180.20 244.40 L190.60 254.80 M180.20 254.80 L190.60 244.40" stroke="#262626" stroke-width="1.05" fill="none"/><circle cx="185.40" cy="256.30" r="5.4" fill="#000"/><path d="M180.70 251.60 L190.10 261.00 M180.70 261.00 L190.10 251.60" stroke="#000" stroke-width="1.00" fill="none"/><path d="M209.40 237.20 L219.80 247.60 M209.40 247.60 L219.80 237.20" stroke="#262626" stroke-width="1.05" fill="none"/><circle cx="214.60" cy="238.80" r="5.4" fill="#000"/><path d="M209.90 234.10 L219.30 243.50 M209.90 243.50 L219.30 234.10" stroke="#000" stroke-width="1.00" fill="none"/><path d="M224.50 247.20 L234.90 257.60 M224.50 257.60 L234.90 247.20" stroke="#262626" stroke-width="1.05" fill="none"/><circle cx="229.70" cy="274.70" r="5.4" fill="#000"/><path d="M225.00 270.00 L234.40 279.40 M225.00 279.40 L234.40 270.00" stroke="#000" stroke-width="1.00" fill="none"/><path d="M251.10 284.80 L261.50 295.20 M251.10 295.20 L261.50 284.80" stroke="#262626" stroke-width="1.05" fill="none"/><circle cx="256.30" cy="236.40" r="5.4" fill="#000"/><path d="M251.60 231.70 L261.00 241.10 M251.60 241.10 L261.00 231.70" stroke="#000" stroke-width="1.00" fill="none"/><path d="M269.30 301.10 L279.70 311.50 M269.30 311.50 L279.70 301.10" stroke="#262626" stroke-width="1.05" fill="none"/><circle cx="274.50" cy="261.30" r="5.4" fill="#000"/><path d="M269.80 256.60 L279.20 266.00 M269.80 266.00 L279.20 256.60" stroke="#000" stroke-width="1.00" fill="none"/><path d="M294.20 250.30 L304.60 260.70 M294.20 260.70 L304.60 250.30" stroke="#262626" stroke-width="1.05" fill="none"/><circle cx="299.40" cy="264.70" r="5.4" fill="#000"/><path d="M294.70 260.00 L304.10 269.40 M294.70 269.40 L304.10 260.00" stroke="#000" stroke-width="1.00" fill="none"/><path d="M312.80 237.30 L323.20 247.70 M312.80 247.70 L323.20 237.30" stroke="#262626" stroke-width="1.05" fill="none"/><circle cx="318.00" cy="261.30" r="5.4" fill="#000"/><path d="M313.30 256.60 L322.70 266.00 M313.30 266.00 L322.70 256.60" stroke="#000" stroke-width="1.00" fill="none"/><path d="M339.50 268.80 L349.90 279.20 M339.50 279.20 L349.90 268.80" stroke="#262626" stroke-width="1.05" fill="none"/><circle cx="344.70" cy="248.90" r="5.4" fill="#000"/><path d="M340.00 244.20 L349.40 253.60 M340.00 253.60 L349.40 244.20" stroke="#000" stroke-width="1.00" fill="none"/><path d="M356.70 262.30 L367.10 272.70 M356.70 272.70 L367.10 262.30" stroke="#262626" stroke-width="1.05" fill="none"/><circle cx="361.90" cy="231.60" r="5.4" fill="#000"/><path d="M357.20 226.90 L366.60 236.30 M357.20 236.30 L366.60 226.90" stroke="#000" stroke-width="1.00" fill="none"/><path d="M380.50 226.80 L390.90 237.20 M380.50 237.20 L390.90 226.80" stroke="#262626" stroke-width="1.05" fill="none"/><circle cx="385.70" cy="181.60" r="5.4" fill="#000"/><path d="M381.00 176.90 L390.40 186.30 M381.00 186.30 L390.40 176.90" stroke="#000" stroke-width="1.00" fill="none"/><path d="M397.30 202.20 L407.70 212.60 M397.30 212.60 L407.70 202.20" stroke="#262626" stroke-width="1.05" fill="none"/><circle cx="402.50" cy="165.50" r="5.4" fill="#000"/><path d="M397.80 160.80 L407.20 170.20 M397.80 170.20 L407.20 160.80" stroke="#000" stroke-width="1.00" fill="none"/><path d="M418.50 178.70 L428.90 189.10 M418.50 189.10 L428.90 178.70" stroke="#262626" stroke-width="1.05" fill="none"/><circle cx="423.70" cy="158.10" r="5.4" fill="#000"/><path d="M419.00 153.40 L428.40 162.80 M419.00 162.80 L428.40 153.40" stroke="#000" stroke-width="1.00" fill="none"/><path d="M434.10 173.60 L444.50 184.00 M434.10 184.00 L444.50 173.60" stroke="#262626" stroke-width="1.05" fill="none"/><circle cx="439.30" cy="124.30" r="5.4" fill="#000"/><path d="M434.60 119.60 L444.00 129.00 M434.60 129.00 L444.00 119.60" stroke="#000" stroke-width="1.00" fill="none"/><path d="M457.00 135.80 L467.40 146.20 M457.00 146.20 L467.40 135.80" stroke="#262626" stroke-width="1.05" fill="none"/><circle cx="462.20" cy="163.00" r="5.4" fill="#000"/><path d="M457.50 158.30 L466.90 167.70 M457.50 167.70 L466.90 158.30" stroke="#000" stroke-width="1.00" fill="none"/><path d="M470.20 136.70 L480.60 147.10 M470.20 147.10 L480.60 136.70" stroke="#262626" stroke-width="1.05" fill="none"/><circle cx="475.40" cy="136.60" r="5.4" fill="#000"/><path d="M470.70 131.90 L480.10 141.30 M470.70 141.30 L480.10 131.90" stroke="#000" stroke-width="1.00" fill="none"/><path d="M495.50 158.20 L505.90 168.60 M495.50 168.60 L505.90 158.20" stroke="#262626" stroke-width="1.05" fill="none"/><circle cx="500.70" cy="165.20" r="5.4" fill="#000"/><path d="M496.00 160.50 L505.40 169.90 M496.00 169.90 L505.40 160.50" stroke="#000" stroke-width="1.00" fill="none"/><path d="M509.10 170.80 L519.50 181.20 M509.10 181.20 L519.50 170.80" stroke="#262626" stroke-width="1.05" fill="none"/><circle cx="514.30" cy="177.80" r="5.4" fill="#000"/><path d="M509.60 173.10 L519.00 182.50 M509.60 182.50 L519.00 173.10" stroke="#000" stroke-width="1.00" fill="none"/><path d="M535.10 164.90 L545.50 175.30 M535.10 175.30 L545.50 164.90" stroke="#262626" stroke-width="1.05" fill="none"/><circle cx="540.30" cy="195.90" r="5.4" fill="#000"/><path d="M535.60 191.20 L545.00 200.60 M535.60 200.60 L545.00 191.20" stroke="#000" stroke-width="1.00" fill="none"/><path d="M549.20 162.10 L559.60 172.50 M549.20 172.50 L559.60 162.10" stroke="#262626" stroke-width="1.05" fill="none"/><circle cx="554.40" cy="204.70" r="5.4" fill="#000"/><path d="M549.70 200.00 L559.10 209.40 M549.70 209.40 L559.10 200.00" stroke="#000" stroke-width="1.00" fill="none"/><path d="M576.40 190.70 L586.80 201.10 M576.40 201.10 L586.80 190.70" stroke="#262626" stroke-width="1.05" fill="none"/><circle cx="581.60" cy="216.50" r="5.4" fill="#000"/><path d="M576.90 211.80 L586.30 221.20 M576.90 221.20 L586.30 211.80" stroke="#000" stroke-width="1.00" fill="none"/><path d="M590.50 182.30 L600.90 192.70 M590.50 192.70 L600.90 182.30" stroke="#262626" stroke-width="1.05" fill="none"/><circle cx="595.70" cy="191.30" r="5.4" fill="#000"/><path d="M591.00 186.60 L600.40 196.00 M591.00 196.00 L600.40 186.60" stroke="#000" stroke-width="1.00" fill="none"/><path d="M618.10 136.00 L628.50 146.40 M618.10 146.40 L628.50 136.00" stroke="#262626" stroke-width="1.05" fill="none"/><circle cx="623.30" cy="182.70" r="5.4" fill="#000"/><path d="M618.60 178.00 L628.00 187.40 M618.60 187.40 L628.00 178.00" stroke="#000" stroke-width="1.00" fill="none"/><path d="M629.60 104.50 L640.00 114.90 M629.60 114.90 L640.00 104.50" stroke="#262626" stroke-width="1.05" fill="none"/><circle cx="634.80" cy="163.50" r="5.4" fill="#000"/><path d="M630.10 158.80 L639.50 168.20 M630.10 168.20 L639.50 158.80" stroke="#000" stroke-width="1.00" fill="none"/><path d="M655.90 54.90 L666.30 65.30 M655.90 65.30 L666.30 54.90" stroke="#262626" stroke-width="1.05" fill="none"/><path d="M655.60 152.40 L666.60 163.40 M655.60 163.40 L666.60 152.40" stroke="#333" stroke-width="1.00" fill="none"/><path d="M667.40 27.30 L677.80 37.70 M667.40 37.70 L677.80 27.30" stroke="#262626" stroke-width="1.05" fill="none"/><path d="M667.10 174.00 L678.10 185.00 M667.10 185.00 L678.10 174.00" stroke="#333" stroke-width="1.00" fill="none"/></g><g><line x1="185.30" y1="464.50" x2="672.40" y2="464.50" stroke="#000" stroke-width="1.15"/><line x1="185.00" y1="437.70" x2="185.00" y2="481.60" stroke="#111" stroke-width="1.00"/><line x1="214.50" y1="446.00" x2="214.50" y2="485.90" stroke="#000" stroke-width="1.10"/><line x1="229.50" y1="427.00" x2="229.50" y2="464.50" stroke="#000" stroke-width="1.10"/><line x1="256.50" y1="491.20" x2="256.50" y2="526.30" stroke="#000" stroke-width="1.10"/><line x1="274.50" y1="484.10" x2="274.50" y2="520.20" stroke="#000" stroke-width="1.10"/><line x1="299.50" y1="441.10" x2="299.50" y2="475.40" stroke="#000" stroke-width="1.10"/><line x1="318.50" y1="432.30" x2="318.50" y2="465.70" stroke="#000" stroke-width="1.10"/><line x1="344.50" y1="466.60" x2="344.50" y2="501.70" stroke="#000" stroke-width="1.10"/><line x1="362.50" y1="478.00" x2="362.50" y2="511.40" stroke="#000" stroke-width="1.10"/><line x1="385.50" y1="490.30" x2="385.50" y2="523.70" stroke="#000" stroke-width="1.10"/><line x1="402.50" y1="483.30" x2="402.50" y2="516.70" stroke="#000" stroke-width="1.10"/><line x1="423.50" y1="470.00" x2="423.50" y2="503.50" stroke="#000" stroke-width="1.10"/><line x1="439.50" y1="491.20" x2="439.50" y2="526.30" stroke="#000" stroke-width="1.10"/><line x1="462.50" y1="430.50" x2="462.50" y2="464.00" stroke="#000" stroke-width="1.10"/><line x1="475.50" y1="453.40" x2="475.50" y2="486.80" stroke="#000" stroke-width="1.10"/><line x1="500.50" y1="447.20" x2="500.50" y2="480.60" stroke="#000" stroke-width="1.10"/><line x1="514.50" y1="448.00" x2="514.50" y2="480.60" stroke="#000" stroke-width="1.10"/><line x1="540.50" y1="427.00" x2="540.50" y2="463.40" stroke="#000" stroke-width="1.10"/><line x1="554.50" y1="416.80" x2="554.50" y2="450.00" stroke="#000" stroke-width="1.10"/><line x1="581.50" y1="430.80" x2="581.50" y2="464.00" stroke="#000" stroke-width="1.10"/><line x1="595.50" y1="446.10" x2="595.50" y2="479.70" stroke="#000" stroke-width="1.10"/><line x1="623.50" y1="413.40" x2="623.50" y2="446.60" stroke="#000" stroke-width="1.10"/><line x1="634.50" y1="398.00" x2="634.50" y2="440.70" stroke="#000" stroke-width="1.10"/><line x1="661.50" y1="361.70" x2="661.50" y2="404.50" stroke="#000" stroke-width="1.10"/><line x1="672.50" y1="311.10" x2="672.50" y2="372.50" stroke="#000" stroke-width="1.10"/><polyline points="185.30,459.60 214.50,465.70 229.80,446.40 256.50,508.80 274.40,501.70 299.50,457.80 318.30,448.50 344.40,485.00 362.30,494.70 385.70,507.00 402.40,500.00 423.50,486.40 439.30,508.80 462.20,447.20 475.40,470.10 500.50,464.80 514.50,463.60 540.20,442.30 554.60,433.30 581.40,447.10 595.30,463.30 623.30,430.50 634.80,419.30 661.10,383.00 672.60,341.80" fill="none" stroke="#000" stroke-width="1.6"/><path d="M180.30 454.60 L190.30 464.60 M180.30 464.60 L190.30 454.60" stroke="#1a1a1a" stroke-width="1.10" fill="none"/><path d="M209.50 460.70 L219.50 470.70 M209.50 470.70 L219.50 460.70" stroke="#1a1a1a" stroke-width="1.10" fill="none"/><path d="M224.80 441.40 L234.80 451.40 M224.80 451.40 L234.80 441.40" stroke="#1a1a1a" stroke-width="1.10" fill="none"/><path d="M251.50 503.80 L261.50 513.80 M251.50 513.80 L261.50 503.80" stroke="#1a1a1a" stroke-width="1.10" fill="none"/><path d="M269.40 496.70 L279.40 506.70 M269.40 506.70 L279.40 496.70" stroke="#1a1a1a" stroke-width="1.10" fill="none"/><path d="M269.40 453.60 L279.00 453.60 L274.10 462.40 Z" fill="#000"/><path d="M294.50 452.80 L304.50 462.80 M294.50 462.80 L304.50 452.80" stroke="#1a1a1a" stroke-width="1.10" fill="none"/><path d="M294.50 457.60 L304.10 457.60 L299.20 466.40 Z" fill="#000"/><path d="M313.30 443.50 L323.30 453.50 M313.30 453.50 L323.30 443.50" stroke="#1a1a1a" stroke-width="1.10" fill="none"/><path d="M313.30 480.80 L322.90 480.80 L318.00 489.60 Z" fill="#000"/><path d="M339.40 480.00 L349.40 490.00 M339.40 490.00 L349.40 480.00" stroke="#1a1a1a" stroke-width="1.10" fill="none"/><path d="M339.40 465.80 L349.00 465.80 L344.10 474.60 Z" fill="#000"/><path d="M357.30 489.70 L367.30 499.70 M357.30 499.70 L367.30 489.70" stroke="#1a1a1a" stroke-width="1.10" fill="none"/><path d="M357.30 451.80 L366.90 451.80 L362.00 460.60 Z" fill="#000"/><path d="M380.70 502.00 L390.70 512.00 M380.70 512.00 L390.70 502.00" stroke="#1a1a1a" stroke-width="1.10" fill="none"/><path d="M380.70 460.60 L390.30 460.60 L385.40 469.40 Z" fill="#000"/><path d="M397.40 495.00 L407.40 505.00 M397.40 505.00 L407.40 495.00" stroke="#1a1a1a" stroke-width="1.10" fill="none"/><path d="M397.40 455.80 L407.00 455.80 L402.10 464.60 Z" fill="#000"/><path d="M418.50 481.40 L428.50 491.40 M418.50 491.40 L428.50 481.40" stroke="#1a1a1a" stroke-width="1.10" fill="none"/><path d="M418.50 465.00 L428.10 465.00 L423.20 473.80 Z" fill="#000"/><path d="M434.30 503.80 L444.30 513.80 M434.30 513.80 L444.30 503.80" stroke="#1a1a1a" stroke-width="1.10" fill="none"/><path d="M434.30 474.70 L443.90 474.70 L439.00 483.50 Z" fill="#000"/><path d="M457.20 442.20 L467.20 452.20 M457.20 452.20 L467.20 442.20" stroke="#1a1a1a" stroke-width="1.10" fill="none"/><path d="M457.20 439.50 L466.80 439.50 L461.90 448.30 Z" fill="#000"/><path d="M470.40 465.10 L480.40 475.10 M470.40 475.10 L480.40 465.10" stroke="#1a1a1a" stroke-width="1.10" fill="none"/><path d="M470.40 468.50 L480.00 468.50 L475.10 477.30 Z" fill="#000"/><path d="M495.50 459.80 L505.50 469.80 M495.50 469.80 L505.50 459.80" stroke="#1a1a1a" stroke-width="1.10" fill="none"/><path d="M495.50 464.10 L505.10 464.10 L500.20 472.90 Z" fill="#000"/><path d="M509.50 458.60 L519.50 468.60 M509.50 468.60 L519.50 458.60" stroke="#1a1a1a" stroke-width="1.10" fill="none"/><path d="M509.50 456.30 L519.10 456.30 L514.20 465.10 Z" fill="#000"/><path d="M535.20 437.30 L545.20 447.30 M535.20 447.30 L545.20 437.30" stroke="#1a1a1a" stroke-width="1.10" fill="none"/><path d="M535.20 458.20 L544.80 458.20 L539.90 467.00 Z" fill="#000"/><path d="M549.60 428.30 L559.60 438.30 M549.60 438.30 L559.60 428.30" stroke="#1a1a1a" stroke-width="1.10" fill="none"/><path d="M549.60 467.80 L559.20 467.80 L554.30 476.60 Z" fill="#000"/><path d="M576.40 442.10 L586.40 452.10 M576.40 452.10 L586.40 442.10" stroke="#1a1a1a" stroke-width="1.10" fill="none"/><path d="M590.30 458.30 L600.30 468.30 M590.30 468.30 L600.30 458.30" stroke="#1a1a1a" stroke-width="1.10" fill="none"/><path d="M618.30 425.50 L628.30 435.50 M618.30 435.50 L628.30 425.50" stroke="#1a1a1a" stroke-width="1.10" fill="none"/><path d="M629.80 414.30 L639.80 424.30 M629.80 424.30 L639.80 414.30" stroke="#1a1a1a" stroke-width="1.10" fill="none"/><path d="M656.10 378.00 L666.10 388.00 M656.10 388.00 L666.10 378.00" stroke="#1a1a1a" stroke-width="1.10" fill="none"/><path d="M667.60 336.80 L677.60 346.80 M667.60 346.80 L677.60 336.80" stroke="#1a1a1a" stroke-width="1.10" fill="none"/></g><rect x="769" y="619" width="8" height="7" fill="#ececec"/><line x1="768.50" y1="619.50" x2="777.00" y2="619.50" stroke="#b8b8b8" stroke-width="1.00"/><line x1="769.50" y1="620.00" x2="769.50" y2="626.00" stroke="#e0e0e0" stroke-width="1.00"/></svg></body></html>
